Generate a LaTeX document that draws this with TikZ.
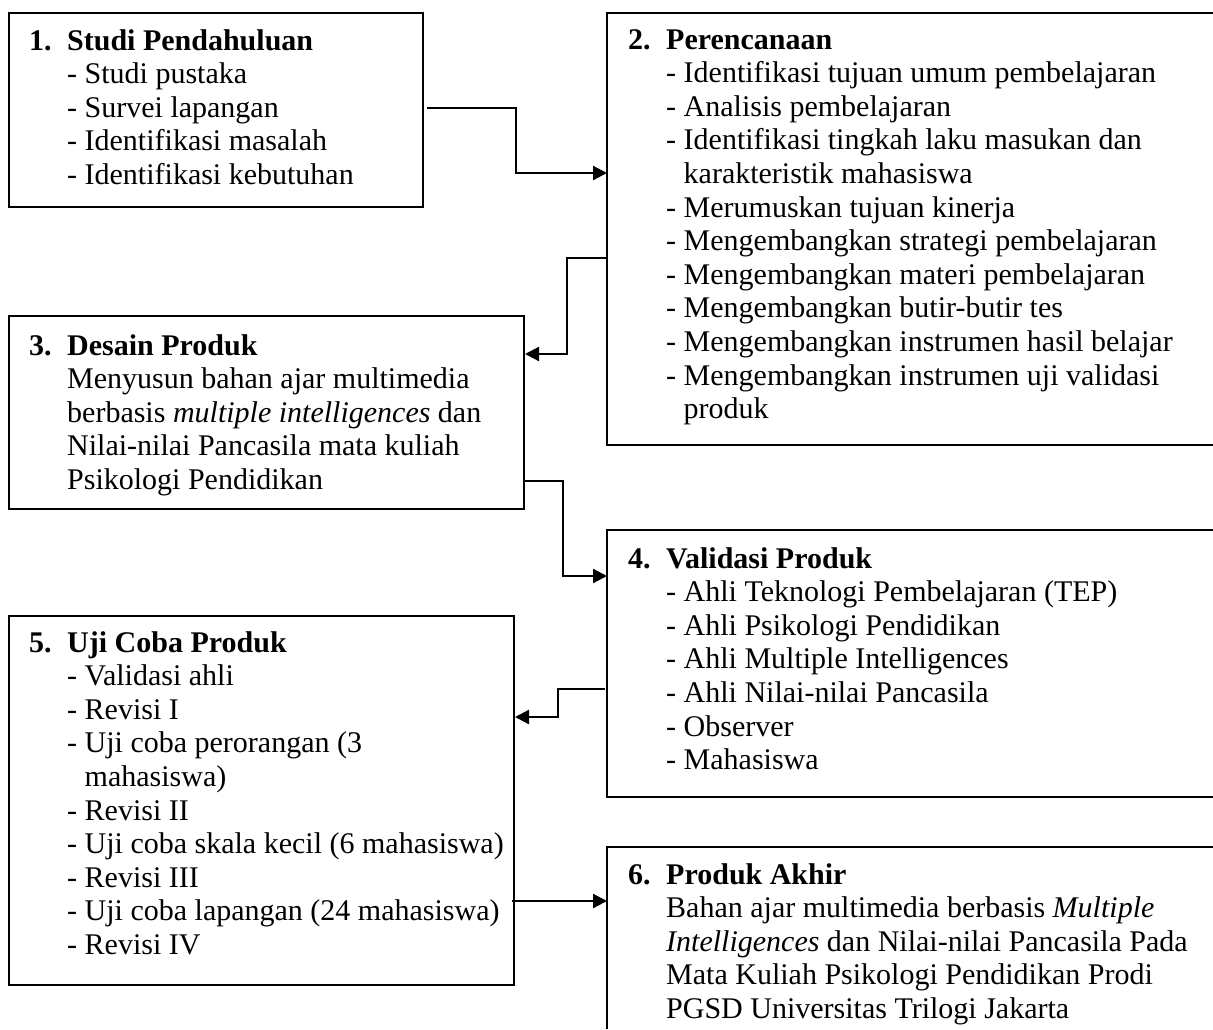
\documentclass[tikz,border=0pt]{standalone}
\usepackage{fontspec}
\setmainfont{Liberation Serif}
\usetikzlibrary{arrows.meta}
\newcommand{\stepnum}[1]{\makebox[38pt][l]{\textbf{#1}}}
\newcommand{\itemind}{\hspace*{38pt}}
\newcommand{\contind}{\hspace*{38pt}\phantom{- }}
\begin{document}
\begin{tikzpicture}[x=1pt,y=-1pt,
  boxframe/.style={draw, line width=2pt, rectangle, inner sep=0pt, anchor=north west},
  openbox/.style={rectangle, inner sep=0pt, anchor=north west},
  frameline/.style={line width=2pt},
  boxtext/.style={anchor=north west, inner sep=0pt, align=left, font=\fontsize{30}{33.6}\selectfont},
  conn/.style={line width=2.2pt, -{Triangle[length=14pt,width=14pt]}}]
\fill[white] (0,0) rectangle (1213,1029);
\useasboundingbox (0,0) rectangle (1213,1029);

% boxes
\node[boxframe, minimum width=414pt, minimum height=194pt] (b1) at (8,12) {};
\node[openbox, minimum width=606pt, minimum height=432pt] (b2) at (607,13) {};
\node[boxframe, minimum width=515pt, minimum height=193pt] (b3) at (8,315) {};
\node[openbox, minimum width=606pt, minimum height=267pt] (b4) at (607,530) {};
\node[boxframe, minimum width=505pt, minimum height=369pt] (b5) at (8,615) {};
\node[openbox, minimum width=606pt, minimum height=182pt] (b6) at (607,847) {};
\draw[frameline] (b2.north east) -- (b2.north west) -- (b2.south west) -- (b2.south east);
\draw[frameline] (b4.north east) -- (b4.north west) -- (b4.south west) -- (b4.south east);
\draw[frameline] (b6.north east) -- (b6.north west) -- (b6.south west);

% texts
\node[boxtext] (t1) at (29,29) {\stepnum{1.}\textbf{Studi Pendahuluan}\\
\itemind- Studi pustaka\\
\itemind- Survei lapangan\\
\itemind- Identifikasi masalah\\
\itemind- Identifikasi kebutuhan};

\node[boxtext] (t2) at (628,29) {\stepnum{2.}\textbf{Perencanaan}\\
\itemind- Identifikasi tujuan umum pembelajaran\\
\itemind- Analisis pembelajaran\\
\itemind- Identifikasi tingkah laku masukan dan\\
\contind karakteristik mahasiswa\\
\itemind- Merumuskan tujuan kinerja\\
\itemind- Mengembangkan strategi pembelajaran\\
\itemind- Mengembangkan materi pembelajaran\\
\itemind- Mengembangkan butir-butir tes\\
\itemind- Mengembangkan instrumen hasil belajar\\
\itemind- Mengembangkan instrumen uji validasi\\
\contind produk};

\node[boxtext] (t3) at (29,334) {\stepnum{3.}\textbf{Desain Produk}\\
\itemind Menyusun bahan ajar multimedia\\
\itemind berbasis \textit{multiple intelligences} dan\\
\itemind Nilai-nilai Pancasila mata kuliah\\
\itemind Psikologi Pendidikan};

\node[boxtext] (t4) at (628,547) {\stepnum{4.}\textbf{Validasi Produk}\\
\itemind- Ahli Teknologi Pembelajaran (TEP)\\
\itemind- Ahli Psikologi Pendidikan\\
\itemind- Ahli Multiple Intelligences\\
\itemind- Ahli Nilai-nilai Pancasila\\
\itemind- Observer\\
\itemind- Mahasiswa};

\node[boxtext] (t5) at (29,631) {\stepnum{5.}\textbf{Uji Coba Produk}\\
\itemind- Validasi ahli\\
\itemind- Revisi I\\
\itemind- Uji coba perorangan (3\\
\contind mahasiswa)\\
\itemind- Revisi II\\
\itemind- Uji coba skala kecil (6 mahasiswa)\\
\itemind- Revisi III\\
\itemind- Uji coba lapangan (24 mahasiswa)\\
\itemind- Revisi IV};

\node[boxtext] (t6) at (628,863) {\stepnum{6.}\textbf{Produk Akhir}\\
\itemind Bahan ajar multimedia berbasis \textit{Multiple}\\
\itemind \textit{Intelligences} dan Nilai-nilai Pancasila Pada\\
\itemind Mata Kuliah Psikologi Pendidikan Prodi\\
\itemind PGSD Universitas Trilogi Jakarta};

% connector guide coordinates
\coordinate (ya1) at (0,108);
\coordinate (yb1) at (0,173);
\coordinate (xm1) at (516,0);
\coordinate (ya2) at (0,258);
\coordinate (yb2) at (0,354);
\coordinate (xm2) at (567,0);
\coordinate (ya3) at (0,481);
\coordinate (yb3) at (0,576);
\coordinate (xm3) at (563,0);
\coordinate (ya4) at (0,689);
\coordinate (yb4) at (0,717);
\coordinate (xm4) at (558,0);
\coordinate (ya5) at (0,901);

% connectors
\draw[conn] ([xshift=3pt]b1.east |- ya1) -| (xm1 |- yb1) -- (b2.west |- yb1);
\draw[conn] (b2.west |- ya2) -| (xm2 |- yb2) -- (b3.east |- yb2);
\draw[conn] (b3.east |- ya3) -| (xm3 |- yb3) -- (b4.west |- yb3);
\draw[conn] ([xshift=-2pt]b4.west |- ya4) -| (xm4 |- yb4) -- (b5.east |- yb4);
\draw[conn] ([xshift=-3pt]b5.east |- ya5) -- (b6.west |- ya5);
\end{tikzpicture}
\end{document}
